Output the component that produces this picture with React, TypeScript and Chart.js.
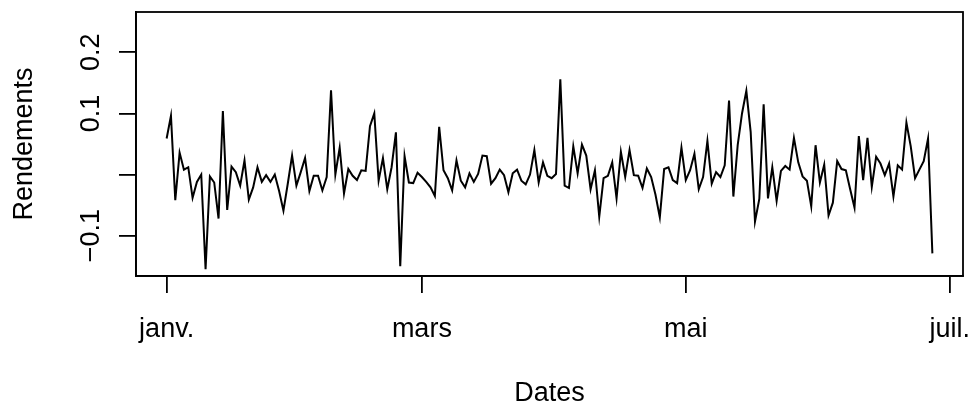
import { useEffect, useRef } from "react";
import { Chart, registerables } from "chart.js";

Chart.register(...registerables);

// Daily returns, one value per day starting on 1 January
const returns: number[] = [
  0.059, 0.096, -0.042, 0.036, 0.008, 0.012, -0.038, -0.012, 0.0, -0.155,
  -0.003, -0.013, -0.072, 0.104, -0.058, 0.013, 0.004, -0.018, 0.023, -0.041,
  -0.021, 0.012, -0.012, -0.001, -0.012, 0.0, -0.027, -0.059, -0.015, 0.031,
  -0.018, 0.004, 0.027, -0.027, -0.002, -0.002, -0.026, -0.004, 0.138, 0.0,
  0.044, -0.031, 0.009, -0.002, -0.009, 0.007, 0.006, 0.079, 0.1, -0.01,
  0.027, -0.024, 0.012, 0.069, -0.15, 0.03, -0.013, -0.014, 0.003, -0.004,
  -0.012, -0.021, -0.035, 0.078, 0.007, -0.006, -0.026, 0.023, -0.01, -0.021,
  0.002, -0.012, 0.001, 0.031, 0.03, -0.015, -0.006, 0.008, -0.001, -0.029,
  0.002, 0.008, -0.01, -0.016, 0.0, 0.04, -0.013, 0.02, -0.002, -0.006,
  0.001, 0.156, -0.018, -0.022, 0.046, 0.002, 0.049, 0.031, -0.024, 0.007,
  -0.069, -0.006, -0.002, 0.02, -0.039, 0.037, -0.004, 0.04, -0.001, -0.002,
  -0.022, 0.01, -0.004, -0.033, -0.07, 0.009, 0.012, -0.009, -0.014, 0.044,
  -0.009, 0.007, 0.034, -0.024, -0.004, 0.055, -0.015, 0.004, -0.004, 0.015,
  0.121, -0.036, 0.048, 0.1, 0.137, 0.07, -0.077, -0.04, 0.115, -0.039,
  0.012, -0.043, 0.006, 0.014, 0.008, 0.06, 0.02, -0.003, -0.01, -0.052,
  0.048, -0.013, 0.016, -0.067, -0.046, 0.022, 0.009, 0.007, -0.024, -0.054,
  0.063, -0.009, 0.06, -0.02, 0.029, 0.018, -0.001, 0.018, -0.036, 0.015,
  0.008, 0.085, 0.046, -0.006, 0.008, 0.022, 0.059, -0.129,
];

// Tick positions in days since 1 January
const xTickDays = [0, 59, 120, 181];
const xTickLabels = ["janv.", "mars", "mai", "juil."];
const yTickValues = [-0.1, 0, 0.1, 0.2];
const yTickLabels = ["\u22120.1", "", "0.1", "0.2"];
const yLimits = [-0.15, 0.25];
const xTitle = "Dates";
const yTitle = "Rendements";

export default function App() {
  const ref = useRef<HTMLCanvasElement>(null);

  useEffect(() => {
    const n = returns.length;
    const xPad = (n - 1) * 0.04;
    const yPad = (yLimits[1] - yLimits[0]) * 0.04;
    const font = { family: "'Liberation Sans', Arial, sans-serif", size: 27 };
    const lw = 1.8;

    const boxPlugin = {
      id: "rbox",
      afterDraw(chart: any) {
        const { ctx, chartArea } = chart;
        ctx.save();
        ctx.strokeStyle = "#000";
        ctx.lineWidth = lw;
        ctx.strokeRect(
          chartArea.left,
          chartArea.top,
          chartArea.right - chartArea.left,
          chartArea.bottom - chartArea.top
        );
        ctx.restore();
      },
    };

    const chart = new Chart(ref.current as HTMLCanvasElement, {
      type: "line",
      data: {
        datasets: [
          {
            data: returns.map((v, i) => ({ x: i, y: v })),
            borderColor: "#000",
            borderWidth: 2,
            pointRadius: 0,
            fill: false,
            tension: 0,
          },
        ],
      },
      options: {
        responsive: false,
        animation: false,
        events: [],
        layout: { padding: { top: 12, right: 9, left: 0, bottom: 0 } },
        plugins: { legend: { display: false }, tooltip: { enabled: false } },
        scales: {
          x: {
            type: "linear",
            min: -xPad,
            max: n - 1 + xPad,
            afterBuildTicks: (s: any) => {
              s.ticks = xTickDays.map((v) => ({ value: v }));
            },
            afterFit: (s: any) => {
              s.height = 132;
              s.paddingLeft = 0;
              s.paddingRight = 0;
            },
            ticks: {
              autoSkip: false,
              maxRotation: 0,
              minRotation: 0,
              padding: 20,
              color: "#000",
              font,
              callback: (_v: any, i: number) => xTickLabels[i],
            },
            grid: {
              display: true,
              drawOnChartArea: false,
              drawTicks: true,
              tickLength: 17,
              color: "#000",
              lineWidth: lw,
            },
            border: { display: true, color: "#000", width: lw },
            title: {
              display: true,
              text: xTitle,
              color: "#000",
              font,
              padding: { top: 0, bottom: -2 },
            },
          },
          y: {
            type: "linear",
            min: yLimits[0] - yPad,
            max: yLimits[1] + yPad,
            afterBuildTicks: (s: any) => {
              s.ticks = yTickValues.map((v) => ({ value: v }));
            },
            afterFit: (s: any) => {
              s.width = 136;
              s.paddingTop = 0;
              s.paddingBottom = 0;
            },
            ticks: {
              autoSkip: false,
              minRotation: 90,
              maxRotation: 90,
              crossAlign: "center",
              padding: 1,
              color: "#000",
              font,
              callback: (_v: any, i: number) => yTickLabels[i],
            },
            grid: {
              display: true,
              drawOnChartArea: false,
              drawTicks: true,
              tickLength: 17,
              color: "#000",
              lineWidth: lw,
            },
            border: { display: true, color: "#000", width: lw },
            title: {
              display: true,
              text: yTitle,
              color: "#000",
              font,
              padding: { top: 8, bottom: 0 },
            },
          },
        },
      },
      plugins: [boxPlugin],
    } as any);

    return () => chart.destroy();
  }, []);

  return (
    <div
      style={{
        position: "absolute",
        left: 0,
        top: 0,
        width: 972,
        height: 408,
        background: "#fff",
      }}
    >
      <canvas ref={ref} width={972} height={408} style={{ display: "block" }} />
    </div>
  );
}
